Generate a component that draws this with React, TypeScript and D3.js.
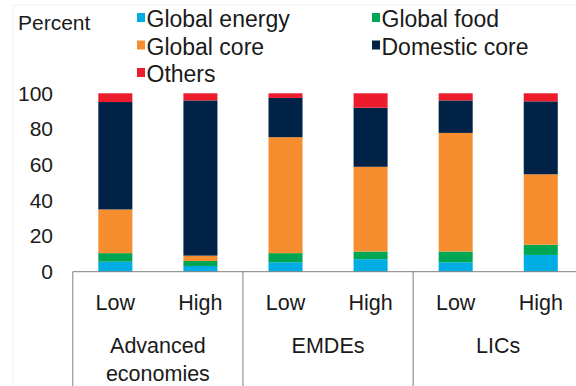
import React from "react";
import * as d3 from "d3";

const groups = ["Advanced economies", "EMDEs", "LICs"];
const groupLines = [["Advanced", "economies"], ["EMDEs"], ["LICs"]];
const levels = ["Low", "High"];
const seriesNames = ["Global energy", "Global food", "Global core", "Domestic core", "Others"];
const seriesColors = ["#00ADE5", "#00A651", "#F68D2E", "#002247", "#EC1C2D"];
// order: bars Adv Low, Adv High, EMDE Low, EMDE High, LIC Low, LIC High
const globalEnergy = [5.6, 3.2, 5.3, 7.0, 5.3, 9.4];
const globalFood = [4.8, 2.8, 5.1, 4.3, 6.0, 5.7];
const globalCore = [24.5, 3.0, 65.0, 47.5, 66.5, 39.5];
const domesticCore = [60.2, 87.0, 22.0, 33.1, 18.2, 40.9];
const others = [4.9, 4.0, 2.6, 8.1, 4.0, 4.5];
const yTicks = [0, 20, 40, 60, 80, 100];

const W = 576;
const H = 386;
const FONT = "'Liberation Sans', Arial, sans-serif";
const TXT = "#1a1a1a";
const LINE = "#7f7f7f";

export default function App() {
  const barKeys = groups.flatMap((g) => levels.map((l) => `${g}|${l}`));
  const x = d3.scaleBand<string>().domain(barKeys).range([72.8, 583.3]).paddingInner(0.6).paddingOuter(0.3);
  const gx = d3.scaleBand<string>().domain(groups).range([72.8, 583.3]).padding(0);
  const y = d3.scaleLinear().domain([0, 100]).range([271.7, 93.3]);

  const rows = barKeys.map((k, i) => ({
    key: k,
    "Global energy": globalEnergy[i],
    "Global food": globalFood[i],
    "Global core": globalCore[i],
    "Domestic core": domesticCore[i],
    Others: others[i],
  }));
  const stack = d3.stack<any>().keys(seriesNames)(rows);

  const legendItems = [
    { i: 0, x: 137, y: 27 },
    { i: 1, x: 372, y: 27 },
    { i: 2, x: 137, y: 54.5 },
    { i: 3, x: 372, y: 54.5 },
    { i: 4, x: 137, y: 82 },
  ];

  return (
    <svg
      width={W}
      height={H}
      style={{ position: "absolute", left: 0, top: 0, background: "#fff" }}
      fontFamily={FONT}
    >
      <rect x={0} y={0} width={W} height={H} fill="#fff" />
      <line x1={13} y1={5} x2={W} y2={5} stroke="#efefef" />
      <line x1={13} y1={5} x2={13} y2={H} stroke="#efefef" />
      <text x={18} y={30} fontSize={21} fill={TXT}>Percent</text>
      {legendItems.map((it) => (
        <g key={it.i}>
          <rect x={it.x} y={it.y - 14} width={8} height={9} fill={seriesColors[it.i]} />
          <text x={it.x + 9.5} y={it.y} fontSize={23} fill={TXT}>{seriesNames[it.i]}</text>
        </g>
      ))}
      {yTicks.map((t) => (
        <text key={t} x={53} y={y(t)} dy="0.35em" textAnchor="end" fontSize={21} fill={TXT}>{t}</text>
      ))}
      {stack.map((s, si) => (
        <g key={s.key} fill={seriesColors[si]}>
          {s.map((d: any) => (
            <rect
              key={d.data.key}
              x={x(d.data.key)}
              y={y(d[1])}
              width={x.bandwidth()}
              height={y(d[0]) - y(d[1])}
            />
          ))}
        </g>
      ))}
      <line x1={72.8} y1={y(0)} x2={W} y2={y(0)} stroke={LINE} strokeWidth={1} />
      {groups.map((g) => (
        <line key={g} x1={gx(g)!} y1={y(0)} x2={gx(g)!} y2={H} stroke={LINE} strokeWidth={1} />
      ))}
      {barKeys.map((k) => (
        <text key={k} x={x(k)! + x.bandwidth() / 2} y={310} textAnchor="middle" fontSize={21.5} fill={TXT}>
          {k.split("|")[1]}
        </text>
      ))}
      {groups.map((g, gi) => (
        <text key={g} x={gx(g)! + gx.bandwidth() / 2} y={353} textAnchor="middle" fontSize={21.5} fill={TXT}>
          {groupLines[gi].map((ln, li) => (
            <tspan key={li} x={gx(g)! + gx.bandwidth() / 2} dy={li === 0 ? 0 : 28}>{ln}</tspan>
          ))}
        </text>
      ))}
    </svg>
  );
}
